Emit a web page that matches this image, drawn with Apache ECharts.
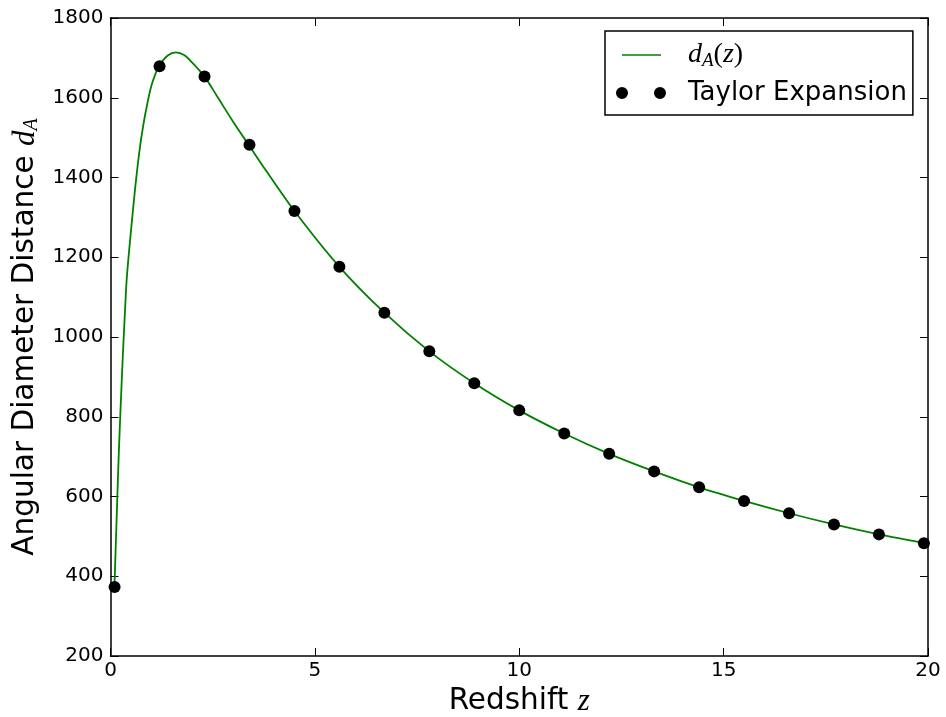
<!DOCTYPE html>
<html>
<head>
<meta charset="utf-8">
<script src="https://cdn.jsdelivr.net/npm/echarts@6/dist/echarts.min.js"></script>
<style>
html,body{margin:0;padding:0;background:#fff;}
#chart{width:946px;height:717px;}
</style>
</head>
<body>
<div id="chart"></div>
<script>
// Curve d_A(z)
const curveZ = [0.1,0.15,0.2,0.25,0.3,0.35,0.4,0.5,0.6,0.7,0.8,0.9,1.0,1.1,1.2,1.4,1.6,1.8,2.0,2.3,2.6,3.0,3.4,3.8,4.5,5.6,6.7,7.8,8.9,10.0,11.1,12.2,13.3,14.4,15.5,16.6,17.7,18.8,19.9,20.0];
const curveD = [385,545,700,830,950,1055,1150,1265,1370,1460,1530,1585,1630,1660,1682,1706,1714,1707,1688,1653,1605,1540,1479,1418,1316,1176,1061,964,884,816,758,707,663,623,589,558,530,505,483,481];
// Taylor expansion points
const taylorZ = [0.1,1.2,2.3,3.4,4.5,5.6,6.7,7.8,8.9,10.0,11.1,12.2,13.3,14.4,15.5,16.6,17.7,18.8,19.9];
const taylorD = [373,1679,1653,1482,1316,1176,1061,964,884,816,758,707,663,623,589,558,530,505,483];
// Axis settings
const xTicks = {min:0, max:20, interval:5};
const yTicks = {min:200, max:1800, interval:200};

const FONT = 'DejaVu Sans';
const MATH = 'Liberation Serif';

const chart = echarts.init(document.getElementById('chart'), null, {renderer:'canvas'});

const tickStyle = {show:true, inside:true, length:8, lineStyle:{color:'#000', width:1}};
const lineStyleAxis = {show:true, onZero:false, lineStyle:{color:'#000', width:1.5}};

const option = {
  animation:false,
  backgroundColor:'#fff',
  grid:{left:110.5, right:18, top:18, bottom:61, containLabel:false, outerBoundsMode:'none'},
  legend:{
    orient:'vertical',
    left:605, top:31,
    padding:[6,6,9,11],
    itemGap:10,
    itemWidth:50, itemHeight:12,
    borderColor:'#000', borderWidth:1.5, borderRadius:0,
    backgroundColor:'#fff',
    selectedMode:false,
    data:[
      {name:'dA', icon:'path://M0,0L0.01,0L0,0.01Z M50,12L49.99,12L50,11.99Z M6,5.2H45V6.8H6Z', itemStyle:{color:'#008000'}},
      {name:'Taylor Expansion', icon:'path://M0,6a6,6 0 1,0 12,0a6,6 0 1,0 -12,0Z M38,6a6,6 0 1,0 12,0a6,6 0 1,0 -12,0Z', itemStyle:{color:'#000'}}
    ],
    formatter:function(name){
      if(name==='dA') return '{m|d}{s|A}{n|(}{m|z}{n|)}';
      return '{t|' + name + '}';
    },
    textStyle:{
      padding:[0,0,0,17],
      rich:{
        m:{fontFamily:MATH, fontStyle:'italic', fontSize:28, color:'#000', lineHeight:30},
        s:{fontFamily:MATH, fontStyle:'italic', fontSize:19, color:'#000', verticalAlign:'bottom', padding:[14,0,0,0], lineHeight:30},
        n:{fontFamily:MATH, fontSize:28, color:'#000', lineHeight:30},
        t:{fontFamily:FONT, fontSize:26, color:'#000', lineHeight:30}
      }
    }
  },
  xAxis:[
    {
      type:'value', min:xTicks.min, max:xTicks.max, interval:xTicks.interval,
      position:'bottom',
      name:'{t|Redshift }{m|z}',
      nameLocation:'middle', nameGap:26,
      nameTextStyle:{verticalAlign:'top', rich:{
        t:{fontFamily:FONT, fontSize:29.5, color:'#000'},
        m:{fontFamily:MATH, fontStyle:'italic', fontSize:31, color:'#000'}
      }},
      axisLine:lineStyleAxis, axisTick:tickStyle,
      axisLabel:{show:true, margin:5, fontFamily:FONT, fontSize:20, color:'#000', formatter:v=>String(v)},
      splitLine:{show:false}
    },
    {
      type:'value', min:xTicks.min, max:xTicks.max, interval:xTicks.interval,
      position:'top',
      axisLine:lineStyleAxis, axisTick:tickStyle,
      axisLabel:{show:false}, splitLine:{show:false}
    }
  ],
  yAxis:[
    {
      type:'value', min:yTicks.min, max:yTicks.max, interval:yTicks.interval,
      position:'left',
      name:'{t|Angular Diameter Distance }{m|d}{s|A}',
      nameLocation:'middle', nameGap:65, nameRotate:90,
      nameTextStyle:{rich:{
        t:{fontFamily:FONT, fontSize:29.5, color:'#000'},
        m:{fontFamily:MATH, fontStyle:'italic', fontSize:31, color:'#000'},
        s:{fontFamily:MATH, fontStyle:'italic', fontSize:20, color:'#000', padding:[12,0,0,0]}
      }},
      axisLine:lineStyleAxis, axisTick:tickStyle,
      axisLabel:{show:true, margin:7, fontFamily:FONT, fontSize:20, color:'#000', formatter:v=>String(v)},
      splitLine:{show:false}
    },
    {
      type:'value', min:yTicks.min, max:yTicks.max, interval:yTicks.interval,
      position:'right',
      axisLine:lineStyleAxis, axisTick:tickStyle,
      axisLabel:{show:false}, splitLine:{show:false}
    }
  ],
  series:[
    {
      name:'dA', type:'line',
      data:curveZ.map((z,i)=>[z, curveD[i]]),
      smooth:0.3,
      showSymbol:false, symbol:'none',
      lineStyle:{color:'#008000', width:1.8},
      itemStyle:{color:'#008000'},
      z:2
    },
    {
      name:'Taylor Expansion', type:'scatter',
      data:taylorZ.map((z,i)=>[z, taylorD[i]]),
      symbol:'circle', symbolSize:12,
      itemStyle:{color:'#000', opacity:1},
      z:3
    }
  ]
};
chart.setOption(option);
</script>
</body>
</html>
